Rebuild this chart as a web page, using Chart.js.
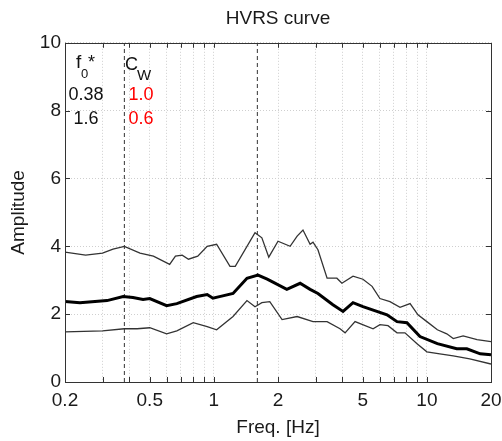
<!DOCTYPE html>
<html>
<head>
<meta charset="utf-8">
<script src="https://cdn.jsdelivr.net/npm/chart.js@4/dist/chart.umd.min.js"></script>
<style>
html, body { margin: 0; padding: 0; background: #fff; }
#wrap { width: 502px; height: 441px; }
</style>
</head>
<body>
<div id="wrap"><canvas id="c"></canvas></div>
<script>
// tick positions (log x axis shows minor grid lines in every decade)
const xTicks = [0.2, 0.3, 0.4, 0.5, 0.6, 0.7, 0.8, 0.9, 1, 2, 3, 4, 5, 6, 7, 8, 9, 10, 20];
const xLabels = [0.2, 0.5, 1, 2, 5, 10, 20];
const yTicks = [0, 2, 4, 6, 8, 10];

// picked peaks
const peakFreqs = [0.38, 1.6];
const peakWeights = ['1.0', '0.6'];

// H/V curves
const upperFreq = [0.2, 0.25, 0.3, 0.336, 0.38, 0.45, 0.52, 0.62, 0.66, 0.71, 0.76, 0.84, 0.93, 1.03, 1.19, 1.26, 1.56, 1.68, 1.81, 2.0, 2.28, 2.46, 2.62, 2.83, 2.92, 3.08, 3.4, 3.78, 3.99, 4.5, 5.01, 5.53, 6.02, 6.71, 7.48, 8.34, 9.08, 10.0, 11.2, 12.4, 13.3, 14.8, 17.2, 20];
const upperAmp  = [3.83, 3.74, 3.8, 3.92, 4.0, 3.8, 3.71, 3.47, 3.71, 3.74, 3.62, 3.71, 4.0, 4.06, 3.41, 3.41, 4.4, 4.25, 3.68, 4.15, 4.0, 4.3, 4.48, 4.06, 4.12, 3.9, 3.06, 3.06, 2.91, 3.12, 3.03, 2.82, 2.46, 2.37, 2.2, 2.31, 1.98, 1.78, 1.54, 1.42, 1.28, 1.36, 1.25, 1.19];

const meanFreq = [0.2, 0.235, 0.315, 0.375, 0.417, 0.465, 0.5, 0.6, 0.67, 0.83, 0.93, 0.99, 1.1, 1.23, 1.43, 1.61, 1.78, 2.2, 2.54, 2.83, 3.08, 3.62, 4.04, 4.5, 5.01, 6.5, 7.24, 8.06, 9.28, 11.2, 13.8, 15.4, 17.8, 20];
const meanAmp  = [2.37, 2.34, 2.4, 2.52, 2.49, 2.43, 2.46, 2.25, 2.31, 2.52, 2.58, 2.47, 2.54, 2.61, 3.06, 3.15, 3.03, 2.73, 2.91, 2.73, 2.61, 2.28, 2.08, 2.34, 2.22, 1.98, 1.78, 1.75, 1.34, 1.13, 0.98, 0.98, 0.83, 0.8];

const lowerFreq = [0.2, 0.3, 0.38, 0.436, 0.5, 0.6, 0.67, 0.8, 0.93, 1.03, 1.23, 1.43, 1.56, 1.68, 1.83, 2.09, 2.46, 2.92, 3.4, 3.91, 4.13, 4.6, 5.59, 6.02, 6.57, 7.24, 7.89, 8.99, 10.0, 11.5, 13.3, 15.9, 20];
const lowerAmp  = [1.48, 1.51, 1.57, 1.57, 1.6, 1.42, 1.51, 1.75, 1.63, 1.54, 1.93, 2.4, 2.22, 2.34, 2.37, 1.84, 1.93, 1.78, 1.78, 1.57, 1.45, 1.78, 1.57, 1.69, 1.66, 1.45, 1.45, 1.13, 0.89, 0.83, 0.77, 0.68, 0.53];

const fam = "'Liberation Sans', Arial, Helvetica, sans-serif";
const pts = (xs, ys) => xs.map((x, i) => ({ x: x, y: ys[i] }));

function curve(data, width) {
    return {
        data: data,
        borderColor: width > 2 ? '#000' : '#333',
        borderWidth: width,
        pointRadius: 0,
        tension: 0,
        fill: false
    };
}

const datasets = [
    curve(pts(upperFreq, upperAmp), 1.3),
    curve(pts(lowerFreq, lowerAmp), 1.3),
    curve(pts(meanFreq, meanAmp), 3)
];
peakFreqs.forEach(f => {
    datasets.push({
        data: [{ x: f, y: 0 }, { x: f, y: 10 }],
        borderColor: '#333',
        borderWidth: 1,
        borderDash: [4, 3],
        pointRadius: 0
    });
});

// MATLAB style box with inward ticks, plus the f0/Cw notes
const frame = {
    id: 'frame',
    afterDraw(chart) {
        const ctx = chart.ctx;
        const a = chart.chartArea;
        const sx = chart.scales.x, sy = chart.scales.y;
        ctx.save();
        ctx.strokeStyle = '#333';
        ctx.lineWidth = 1;
        ctx.beginPath();
        xTicks.forEach(v => {
            const p = Math.round(sx.getPixelForValue(v)) + 0.5;
            ctx.moveTo(p, a.bottom); ctx.lineTo(p, a.bottom - 5);
            ctx.moveTo(p, a.top); ctx.lineTo(p, a.top + 5);
        });
        yTicks.forEach(v => {
            const p = Math.round(sy.getPixelForValue(v)) + 0.5;
            ctx.moveTo(a.left, p); ctx.lineTo(a.left + 5, p);
            ctx.moveTo(a.right, p); ctx.lineTo(a.right - 5, p);
        });
        ctx.stroke();
        ctx.strokeRect(Math.round(a.left) + 0.5, Math.round(a.top) + 0.5, Math.round(a.right - a.left), Math.round(a.bottom - a.top));

        ctx.fillStyle = '#111';
        ctx.textBaseline = 'alphabetic';
        ctx.textAlign = 'left';
        ctx.font = '19px ' + fam;
        ctx.fillText('f', 76, 68);
        ctx.font = '13px ' + fam;
        ctx.fillText('0', 81, 78);
        ctx.font = '18px ' + fam;
        ctx.fillText('*', 88, 68);
        ctx.fillText('C', 125, 70);
        ctx.font = '15px ' + fam;
        ctx.fillText('W', 137, 80);

        ctx.textAlign = 'center';
        ctx.font = '18px ' + fam;
        peakFreqs.forEach((f, i) => {
            ctx.fillStyle = '#111';
            ctx.fillText(String(f), 86, 100 + i * 24);
            ctx.fillStyle = '#f00';
            ctx.fillText(peakWeights[i], 141, 100 + i * 24);
        });
        ctx.restore();
    }
};

new Chart(document.getElementById('c'), {
    type: 'line',
    data: { datasets: datasets },
    plugins: [frame],
    options: {
        responsive: true,
        maintainAspectRatio: false,
        animation: false,
        layout: { padding: { left: 0, right: 11, top: 0, bottom: 0 } },
        plugins: {
            legend: { display: false },
            tooltip: { enabled: false },
            title: {
                display: true,
                text: 'HVRS curve',
                fullSize: false,
                color: '#1a1a1a',
                font: { family: fam, size: 19, weight: 'normal' },
                padding: { top: 7, bottom: 13 }
            }
        },
        scales: {
            x: {
                type: 'logarithmic',
                min: 0.2,
                max: 20,
                afterBuildTicks: s => { s.ticks = xTicks.map(v => ({ value: v })); },
                afterFit: s => { s.height = 59; s.paddingLeft = 0; s.paddingRight = 0; },
                ticks: {
                    autoSkip: false,
                    maxRotation: 0,
                    padding: 7,
                    color: '#1a1a1a',
                    font: { family: fam, size: 19 },
                    callback: v => xLabels.includes(v) ? String(v) : ''
                },
                grid: { color: '#cfcfcf', drawTicks: false },
                border: { display: false, dash: [1, 2] },
                title: {
                    display: true,
                    text: 'Freq. [Hz]',
                    color: '#1a1a1a',
                    font: { family: fam, size: 19 },
                    padding: { top: 0, bottom: 2 }
                }
            },
            y: {
                min: 0,
                max: 10,
                afterBuildTicks: s => { s.ticks = yTicks.map(v => ({ value: v })); },
                afterFit: s => { s.width = 65; },
                ticks: {
                    padding: 4,
                    color: '#1a1a1a',
                    font: { family: fam, size: 19 }
                },
                grid: { color: '#cfcfcf', drawTicks: false },
                border: { display: false, dash: [1, 2] },
                title: {
                    display: true,
                    text: 'Amplitude',
                    color: '#1a1a1a',
                    font: { family: fam, size: 19 },
                    padding: { top: 7, bottom: 0 }
                }
            }
        }
    }
});
</script>
</body>
</html>
